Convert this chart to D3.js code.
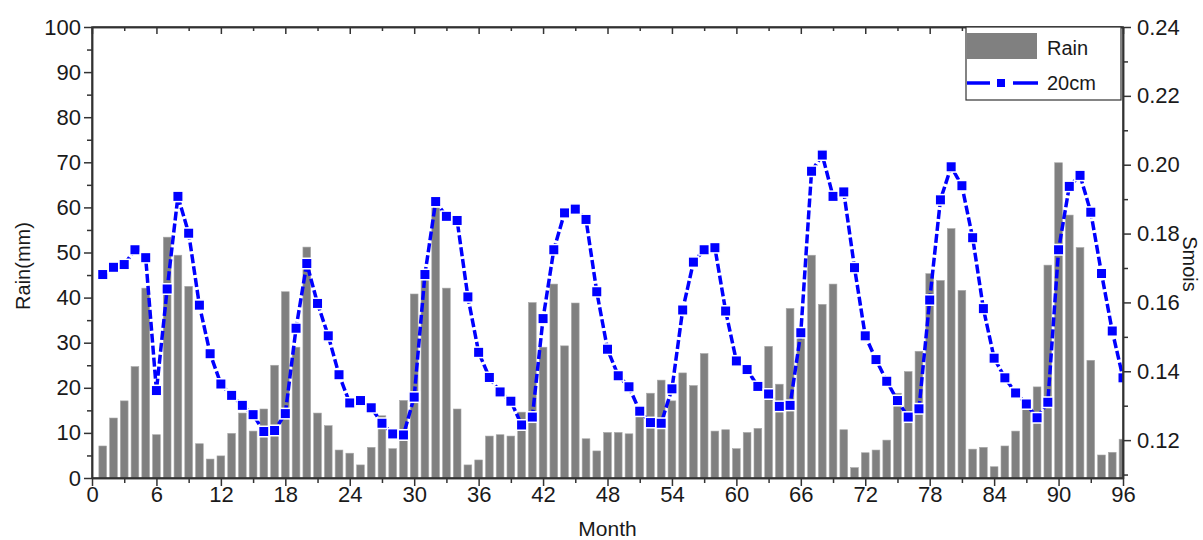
<!DOCTYPE html>
<html>
<head>
<meta charset="utf-8">
<script src="https://cdn.jsdelivr.net/npm/d3@7"></script>
<style>
  body { margin: 0; background: #fff; }
  svg { font-family: "Liberation Sans", Arial, sans-serif; }
  .axis text { font-size: 22px; fill: #1a1a1a; }
  .axis line, .axis path { stroke: #333; stroke-width: 1.5; }
</style>
</head>
<body>
<script>
var months = d3.range(1, 97);

var rain = [7.1, 13.3, 17.1, 24.7, 42.1, 9.6, 53.4, 49.4, 42.5, 7.6, 4.2, 4.9,
  9.9, 14.4, 10.4, 15.3, 25.0, 41.3, 29.0, 51.2, 14.4, 11.6, 6.2, 5.5,
  2.9, 6.8, 13.8, 6.5, 17.2, 40.8, 45.0, 59.9, 42.1, 15.3, 2.9, 4.0,
  9.3, 9.6, 9.3, 14.6, 38.9, 29.0, 43.0, 29.3, 38.8, 8.7, 6.0, 10.1,
  10.1, 9.8, 14.0, 18.8, 21.7, 17.1, 23.3, 20.5, 27.6, 10.4, 10.7, 6.5,
  10.1, 11.0, 29.2, 20.8, 37.6, 32.6, 49.4, 38.5, 43.0, 10.7, 2.3, 5.6,
  6.2, 8.4, 18.8, 23.6, 28.1, 45.3, 43.8, 55.3, 41.6, 6.4, 6.8, 2.5,
  7.1, 10.4, 15.2, 20.2, 47.2, 69.9, 58.3, 51.1, 26.1, 5.1, 5.7, 8.6];

var smois = [0.1681, 0.1702, 0.1710, 0.1753, 0.1730, 0.1344, 0.1639, 0.1908, 0.1801, 0.1592, 0.1451, 0.1363,
  0.1330, 0.1301, 0.1274, 0.1225, 0.1228, 0.1277, 0.1525, 0.1713, 0.1597, 0.1503, 0.1390, 0.1308,
  0.1315, 0.1294, 0.1249, 0.1218, 0.1215, 0.1325, 0.1681, 0.1893, 0.1850, 0.1838, 0.1616, 0.1455,
  0.1382, 0.1340, 0.1313, 0.1244, 0.1267, 0.1553, 0.1753, 0.1860, 0.1871, 0.1841, 0.1631, 0.1464,
  0.1387, 0.1355, 0.1284, 0.1251, 0.1249, 0.1349, 0.1578, 0.1717, 0.1753, 0.1759, 0.1575, 0.1430,
  0.1405, 0.1356, 0.1334, 0.1298, 0.1301, 0.1512, 0.1981, 0.2028, 0.1908, 0.1921, 0.1701, 0.1503,
  0.1434, 0.1371, 0.1315, 0.1267, 0.1291, 0.1607, 0.1898, 0.1994, 0.1939, 0.1788, 0.1582, 0.1438,
  0.1381, 0.1337, 0.1305, 0.1265, 0.1310, 0.1753, 0.1937, 0.1969, 0.1862, 0.1684, 0.1517, 0.1381];

var monthTicks = d3.range(0, 97, 6);
var monthMinor = d3.range(3, 97, 6);
var rainTicks = d3.range(0, 101, 10);
var rainMinor = d3.range(5, 100, 10);
var smoisTicks = [0.12, 0.14, 0.16, 0.18, 0.20, 0.22, 0.24];
var smoisMinor = [0.11, 0.13, 0.15, 0.17, 0.19, 0.21, 0.23];

var legendNames = ["Rain", "20cm"];

function main() {
  var W = 1203, H = 540;
  var left = 92, right = 1123, top = 27, bottom = 478;

  var svg = d3.select("body").append("svg")
    .attr("width", W)
    .attr("height", H);

  var x = d3.scaleLinear().domain([0, 96]).range([left, right]);
  var yL = d3.scaleLinear().domain([0, 100]).range([bottom, top]);
  var yR = d3.scaleLinear().domain([0.109, 0.24]).range([bottom, top]);

  svg.append("clipPath").attr("id", "plot")
    .append("rect")
    .attr("x", left).attr("y", top)
    .attr("width", right - left).attr("height", bottom - top);

  var plot = svg.append("g").attr("clip-path", "url(#plot)");

  // bars
  var bw = (x(1) - x(0)) * 0.72;
  plot.selectAll("rect.bar")
    .data(months)
    .enter()
    .append("rect")
    .attr("class", "bar")
    .attr("x", function(d) { return x(d) - bw / 2; })
    .attr("y", function(d, i) { return yL(rain[i]); })
    .attr("width", bw)
    .attr("height", function(d, i) { return yL(0) - yL(rain[i]); })
    .attr("fill", "#808080")
    .attr("stroke", "#a8a8a8")
    .attr("stroke-width", 0.6);

  // smois line
  var line = d3.line()
    .x(function(d) { return x(d); })
    .y(function(d, i) { return yR(smois[i]); });

  plot.append("path")
    .datum(months)
    .attr("d", line)
    .attr("fill", "none")
    .attr("stroke", "#0000ff")
    .attr("stroke-width", 3.5)
    .attr("stroke-dasharray", "9,3");

  var ms = 10.5;
  plot.selectAll("rect.mark")
    .data(months)
    .enter()
    .append("rect")
    .attr("class", "mark")
    .attr("x", function(d) { return x(d) - ms / 2; })
    .attr("y", function(d, i) { return yR(smois[i]) - ms / 2; })
    .attr("width", ms)
    .attr("height", ms)
    .attr("fill", "#0000ff")
    .attr("stroke", "#fff")
    .attr("stroke-width", 1.5);

  // axes
  svg.append("g").attr("class", "axis")
    .attr("transform", "translate(0," + bottom + ")")
    .call(d3.axisBottom(x).tickValues(monthTicks).tickSize(8).tickSizeOuter(0).tickPadding(0));
  svg.append("g").attr("class", "axis")
    .attr("transform", "translate(0," + bottom + ")")
    .call(d3.axisBottom(x).tickValues(monthMinor).tickSize(5).tickSizeOuter(0).tickFormat(""));

  svg.append("g").attr("class", "axis")
    .attr("transform", "translate(0," + top + ")")
    .call(d3.axisBottom(x).tickValues(monthTicks).tickSize(7).tickSizeOuter(0).tickFormat(""));
  svg.append("g").attr("class", "axis")
    .attr("transform", "translate(0," + top + ")")
    .call(d3.axisBottom(x).tickValues(monthMinor).tickSize(4).tickSizeOuter(0).tickFormat(""));

  svg.append("g").attr("class", "axis")
    .attr("transform", "translate(" + left + ",0)")
    .call(d3.axisLeft(yL).tickValues(rainTicks).tickSize(8).tickSizeOuter(0).tickPadding(3));
  svg.append("g").attr("class", "axis")
    .attr("transform", "translate(" + left + ",0)")
    .call(d3.axisLeft(yL).tickValues(rainMinor).tickSize(5).tickSizeOuter(0).tickFormat(""));

  svg.append("g").attr("class", "axis")
    .attr("transform", "translate(" + right + ",0)")
    .call(d3.axisRight(yR).tickValues(smoisTicks).tickSize(8).tickSizeOuter(0).tickPadding(6)
      .tickFormat(d3.format(".2f")));
  svg.append("g").attr("class", "axis")
    .attr("transform", "translate(" + right + ",0)")
    .call(d3.axisRight(yR).tickValues(smoisMinor).tickSize(5).tickSizeOuter(0).tickFormat(""));

  svg.append("rect")
    .attr("x", left).attr("y", top)
    .attr("width", right - left).attr("height", bottom - top)
    .attr("fill", "none")
    .attr("stroke", "#333")
    .attr("stroke-width", 1.5);

  // titles
  svg.append("text")
    .attr("x", (left + right) / 2).attr("y", 536)
    .attr("text-anchor", "middle")
    .style("font-size", "21px").attr("fill", "#1a1a1a")
    .text("Month");
  svg.append("text")
    .attr("transform", "translate(30,266) rotate(-90)")
    .attr("text-anchor", "middle")
    .style("font-size", "20px").attr("fill", "#1a1a1a")
    .text("Rain(mm)");
  svg.append("text")
    .attr("transform", "translate(1183,264) rotate(90)")
    .attr("text-anchor", "middle")
    .style("font-size", "20px").attr("fill", "#1a1a1a")
    .text("Smois");

  // legend
  var lg = svg.append("g");
  lg.append("rect")
    .attr("x", 966).attr("y", top)
    .attr("width", 155).attr("height", 73)
    .attr("fill", "#fff")
    .attr("stroke", "#333")
    .attr("stroke-width", 1.2);
  lg.append("rect")
    .attr("x", 967).attr("y", 33)
    .attr("width", 70).attr("height", 26)
    .attr("fill", "#808080");
  lg.append("line")
    .attr("x1", 967).attr("x2", 990).attr("y1", 83).attr("y2", 83)
    .attr("stroke", "#0000ff").attr("stroke-width", 3.5);
  lg.append("line")
    .attr("x1", 1013).attr("x2", 1038).attr("y1", 83).attr("y2", 83)
    .attr("stroke", "#0000ff").attr("stroke-width", 3.5);
  lg.append("rect")
    .attr("x", 997).attr("y", 79)
    .attr("width", 8).attr("height", 8)
    .attr("fill", "#0000ff");
  lg.selectAll("text.lt")
    .data(legendNames)
    .enter()
    .append("text")
    .attr("class", "lt")
    .attr("x", 1047)
    .attr("y", function(d, i) { return 55 + i * 35; })
    .style("font-size", "20px").attr("fill", "#1a1a1a")
    .text(function(d) { return d; });
}

main();
</script>
</body>
</html>
